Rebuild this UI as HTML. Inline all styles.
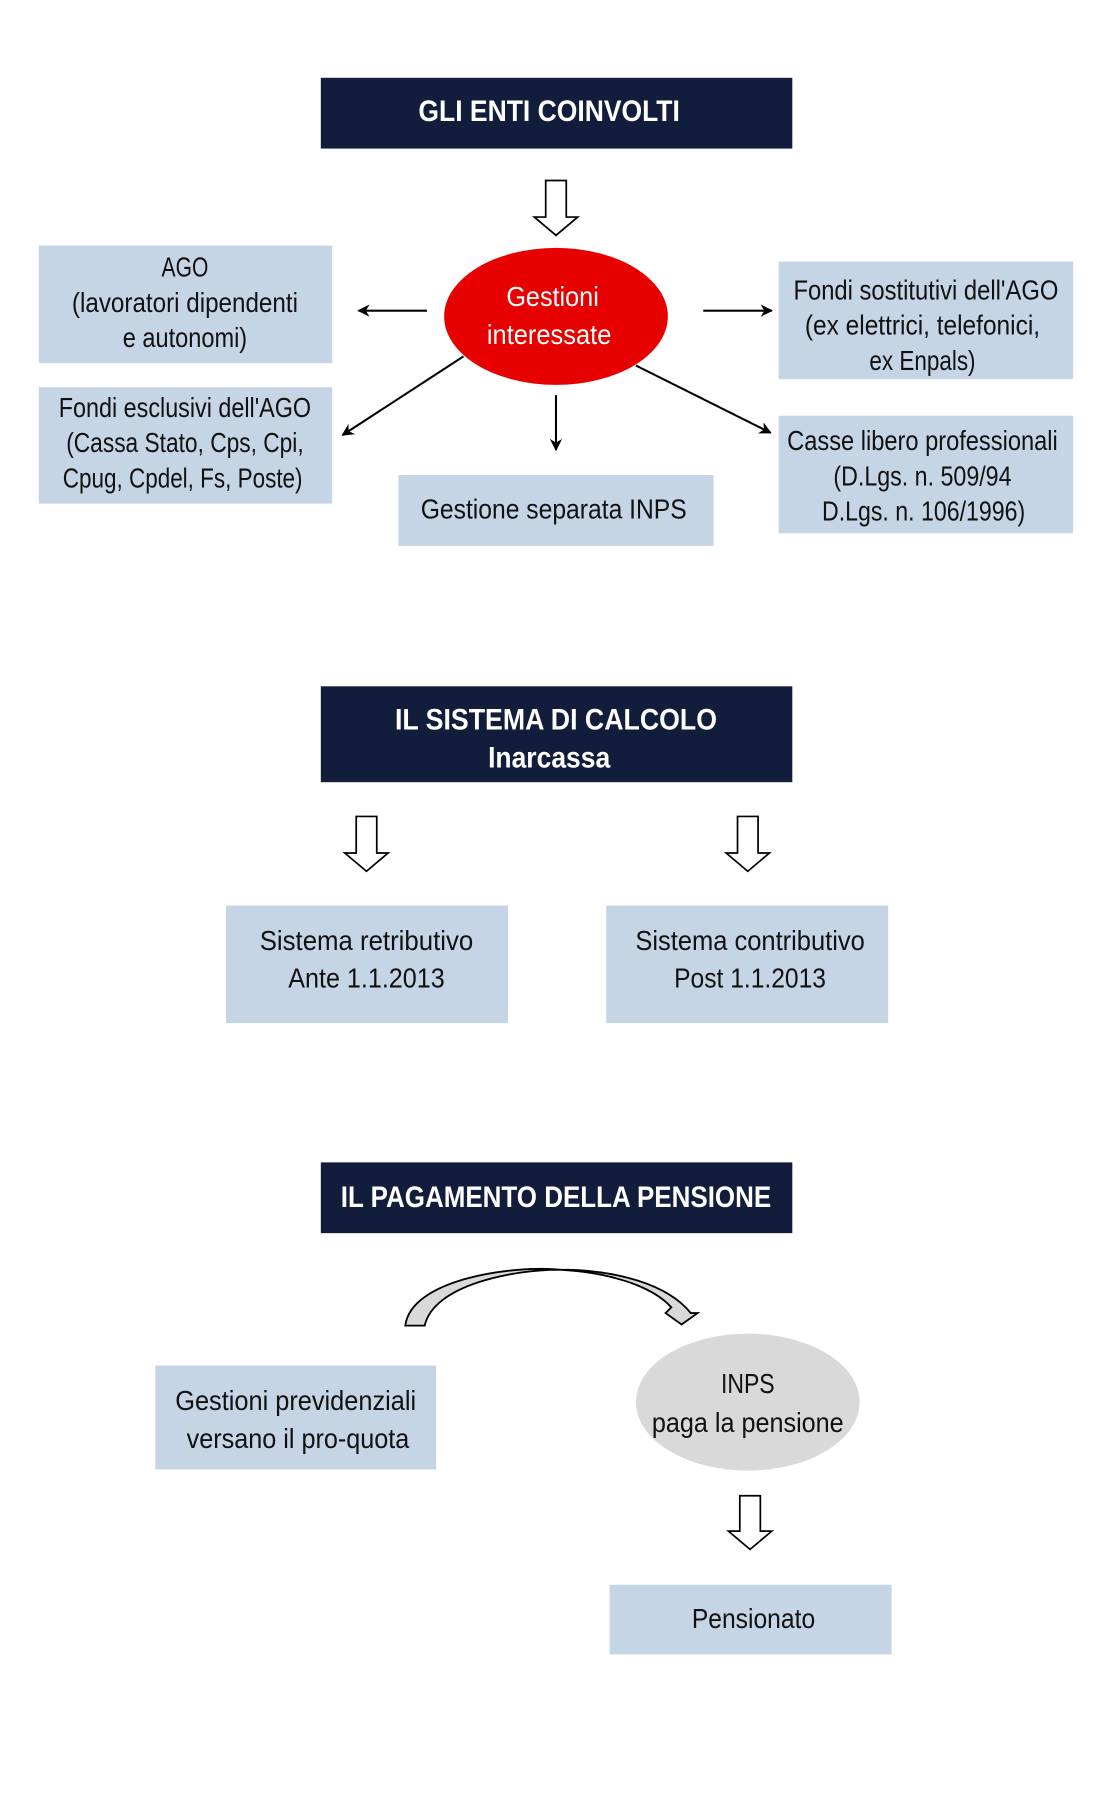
<!DOCTYPE html>
<html><head><meta charset="utf-8"><style>
html,body{margin:0;padding:0;background:#fff;}
svg{display:block;}
text{font-family:"Liberation Sans Narrow","Liberation Sans",sans-serif;text-anchor:middle;}
.b{fill:#c5d5e5;}
.t{fill:#121d3b;}
.l{font-size:24px;fill:#111;}
.h{font-size:26px;fill:#fff;font-weight:bold;}
.ha{fill:#fff;stroke:#000;stroke-width:1.5;}
</style></head><body>
<svg width="1096" height="1795" viewBox="0 0 960 1572" xmlns="http://www.w3.org/2000/svg">
<defs><marker id="ar" viewBox="0 0 10 10" refX="9" refY="5" markerWidth="6" markerHeight="6" orient="auto"><path d="M0,0 L10,5 L0,10 L3,5 z" fill="#000"/></marker></defs>
<rect class="t" x="281" y="68" width="413" height="62"/>
<text class="h" x="481" y="106" textLength="229" lengthAdjust="spacingAndGlyphs">GLI  ENTI COINVOLTI</text>
<path class="ha" d="M478,158 H496 V190 H506 L487,206 L468,190 H478 Z"/>
<ellipse cx="487" cy="277" rx="98" ry="60" fill="#e60000"/>
<text class="l" x="484" y="268" style="fill:#fff" textLength="81" lengthAdjust="spacingAndGlyphs">Gestioni</text>
<text class="l" x="481" y="301" style="fill:#fff" textLength="109" lengthAdjust="spacingAndGlyphs">interessate</text>
<rect class="b" x="34" y="215" width="257" height="103"/>
<text class="l" x="162" y="242" textLength="41" lengthAdjust="spacingAndGlyphs">AGO</text><text class="l" x="162" y="273" textLength="198" lengthAdjust="spacingAndGlyphs">(lavoratori dipendenti</text><text class="l" x="162" y="304" textLength="109" lengthAdjust="spacingAndGlyphs">e autonomi)</text>
<rect class="b" x="34" y="339" width="257" height="102"/>
<text class="l" x="162" y="365" textLength="221" lengthAdjust="spacingAndGlyphs">Fondi esclusivi dell'AGO</text><text class="l" x="162" y="396" textLength="208" lengthAdjust="spacingAndGlyphs">(Cassa Stato, Cps, Cpi,</text><text class="l" x="160" y="427" textLength="210" lengthAdjust="spacingAndGlyphs">Cpug, Cpdel, Fs, Poste)</text>
<rect class="b" x="349" y="416" width="276" height="62"/>
<text class="l" x="485" y="454" textLength="233" lengthAdjust="spacingAndGlyphs">Gestione separata INPS</text>
<rect class="b" x="682" y="229" width="258" height="103"/>
<text class="l" x="811" y="262" textLength="232" lengthAdjust="spacingAndGlyphs">Fondi sostitutivi dell'AGO</text><text class="l" x="808" y="293" textLength="206" lengthAdjust="spacingAndGlyphs">(ex elettrici, telefonici,</text><text class="l" x="808" y="324" textLength="93" lengthAdjust="spacingAndGlyphs">ex Enpals)</text>
<rect class="b" x="682" y="364" width="258" height="103"/>
<text class="l" x="808" y="394" textLength="237" lengthAdjust="spacingAndGlyphs">Casse libero professionali</text><text class="l" x="808" y="425" textLength="156" lengthAdjust="spacingAndGlyphs">(D.Lgs. n. 509/94</text><text class="l" x="809" y="456" textLength="178" lengthAdjust="spacingAndGlyphs">D.Lgs. n. 106/1996)</text>
<g stroke="#000" stroke-width="1.8" marker-end="url(#ar)">
<line x1="374" y1="272" x2="314" y2="272"/>
<line x1="616" y1="272" x2="676" y2="272"/>
<line x1="487" y1="346" x2="487" y2="394"/>
<line x1="406" y1="312" x2="300" y2="381"/>
<line x1="557" y1="320" x2="675" y2="379"/>
</g>
<rect class="t" x="281" y="601" width="413" height="84"/>
<text class="h" x="487" y="639" textLength="282" lengthAdjust="spacingAndGlyphs">IL SISTEMA  DI  CALCOLO</text>
<text class="h" x="481" y="672" textLength="107" lengthAdjust="spacingAndGlyphs">Inarcassa</text>
<path class="ha" d="M312,715 H330 V747 H340 L321,763 L302,747 H312 Z"/>
<path class="ha" d="M646,715 H664 V747 H674 L655,763 L636,747 H646 Z"/>
<rect class="b" x="198" y="793" width="247" height="103"/>
<text class="l" x="321" y="832" textLength="187" lengthAdjust="spacingAndGlyphs">Sistema retributivo</text><text class="l" x="321" y="865" textLength="137" lengthAdjust="spacingAndGlyphs">Ante 1.1.2013</text>
<rect class="b" x="531" y="793" width="247" height="103"/>
<text class="l" x="657" y="832" textLength="201" lengthAdjust="spacingAndGlyphs">Sistema contributivo</text><text class="l" x="657" y="865" textLength="133" lengthAdjust="spacingAndGlyphs">Post 1.1.2013</text>
<rect class="t" x="281" y="1018" width="413" height="62"/>
<text class="h" x="487" y="1057" textLength="377" lengthAdjust="spacingAndGlyphs">IL PAGAMENTO DELLA PENSIONE</text>
<path d="M355,1161 C360,1120 450,1108 490,1112 C530,1114 570,1125 588,1145 L583,1150 L597,1160 L611,1150 L605,1150 C585,1125 540,1112 490,1112 C450,1112 380,1125 372,1161 Z" fill="#d9d9d9" stroke="#000" stroke-width="1.6" stroke-linejoin="miter"/>
<rect class="b" x="136" y="1196" width="246" height="91"/>
<text class="l" x="259" y="1235" textLength="211" lengthAdjust="spacingAndGlyphs">Gestioni previdenziali</text><text class="l" x="261" y="1268" textLength="195" lengthAdjust="spacingAndGlyphs">versano il pro-quota</text>
<ellipse cx="655" cy="1228" rx="98" ry="60" fill="#d9d9d9"/>
<text class="l" x="655" y="1220" textLength="47" lengthAdjust="spacingAndGlyphs">INPS</text><text class="l" x="655" y="1254" textLength="168" lengthAdjust="spacingAndGlyphs">paga la pensione</text>
<path class="ha" d="M648,1310 H666 V1341 H676 L657,1357 L638,1341 H648 Z"/>
<rect class="b" x="534" y="1388" width="247" height="61"/>
<text class="l" x="660" y="1426" textLength="108" lengthAdjust="spacingAndGlyphs">Pensionato</text>
</svg>
</body></html>
